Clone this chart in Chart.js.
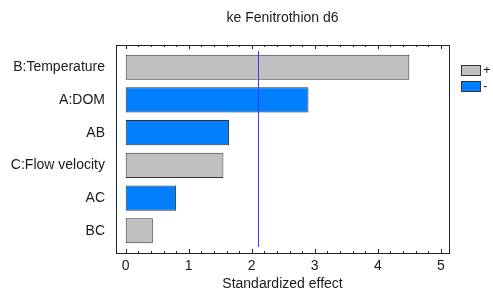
<!DOCTYPE html>
<html>
<head>
<meta charset="utf-8">
<script src="https://cdn.jsdelivr.net/npm/chart.js@4.4.0/dist/chart.umd.min.js"></script>
<style>
  html, body { margin: 0; padding: 0; background: #fff; }
  #wrap { width: 493px; height: 297px; position: relative; }
</style>
</head>
<body>
<div id="wrap"><canvas id="chart"></canvas></div>
<script>
// pareto chart of standardized effects
const chartTitle = 'ke Fenitrothion d6';
const factors = ['B:Temperature', 'A:DOM', 'AB', 'C:Flow velocity', 'AC', 'BC'];
const effects = [4.50, 2.90, 1.64, 1.55, 0.80, 0.43];
const signs = ['+', '-', '-', '+', '-', '+'];
const criticalValue = 2.10;
const xTicks = [0, 1, 2, 3, 4, 5];
const xTitle = 'Standardized effect';

const FONT = 'Liberation Sans, Arial, sans-serif';
const TEXT = '#1a1a1a';
const signColors = { '+': '#c0c0c0', '-': '#0080ff' };

function seriesFor(sign){
  return factors.map((f, i) => i).filter(i => signs[i] === sign).map(i => ({ x: effects[i], y: i }));
}

const datasets = ['+', '-'].map(s => ({
  label: s,
  data: seriesFor(s),
  backgroundColor: signColors[s],
  borderColor: '#333',
  borderWidth: 1,
  borderSkipped: false,
  grouped: false,
  barPercentage: 0.77,
  categoryPercentage: 1
}));

// frame, inward ticks, reference line, title and legend
const decor = {
  id: 'decor',
  afterDatasetsDraw(chart){
    const ctx = chart.ctx, a = chart.chartArea;
    const xs = chart.scales.x, ys = chart.scales.y;
    ctx.save();
    // reference line
    const lx = Math.round(xs.getPixelForValue(criticalValue)) + 0.5;
    ctx.strokeStyle = '#3a3aff';
    ctx.lineWidth = 1;
    ctx.beginPath();
    ctx.moveTo(lx, ys.getPixelForValue(-0.5));
    ctx.lineTo(lx, ys.getPixelForValue(factors.length - 0.5));
    ctx.stroke();
    // frame
    ctx.strokeStyle = '#222';
    ctx.strokeRect(Math.round(a.left) + 0.5, Math.round(a.top) + 0.5, Math.round(a.right - a.left), Math.round(a.bottom - a.top));
    // minor/major ticks every 0.2
    ctx.beginPath();
    for (let k = 0; k <= 25; k++) {
      const v = k / 5;
      const px = Math.round(xs.getPixelForValue(v)) + 0.5;
      const len = (k % 5 === 0) ? 4 : 2;
      ctx.moveTo(px, Math.round(a.top)); ctx.lineTo(px, Math.round(a.top) + len);
      ctx.moveTo(px, Math.round(a.bottom)); ctx.lineTo(px, Math.round(a.bottom) - len);
    }
    ctx.stroke();
    // title
    ctx.fillStyle = TEXT;
    ctx.font = '14px ' + FONT;
    ctx.textAlign = 'center';
    ctx.textBaseline = 'middle';
    ctx.fillText(chartTitle, (a.left + a.right) / 2, 18);
    // legend
    ctx.textAlign = 'left';
    ctx.font = '13px ' + FONT;
    chart.data.datasets.forEach((ds, i) => {
      const bx = a.right + 12, by = 65 + i * 16;
      ctx.fillStyle = ds.backgroundColor;
      ctx.fillRect(bx, by, 19, 10);
      ctx.strokeStyle = '#333';
      ctx.strokeRect(bx + 0.5, by + 0.5, 19, 10);
      ctx.fillStyle = TEXT;
      ctx.fillText(ds.label, bx + 22, by + 5.5);
    });
    ctx.restore();
  }
};

new Chart(document.getElementById('chart'), {
  type: 'bar',
  data: { datasets },
  options: {
    indexAxis: 'y',
    responsive: true,
    maintainAspectRatio: false,
    animation: false,
    layout: { padding: { left: 0, right: 44, top: 45, bottom: 0 } },
    plugins: { legend: { display: false }, tooltip: { enabled: false }, title: { display: false } },
    scales: {
      x: {
        type: 'linear',
        min: -0.154,
        max: 5.13,
        afterBuildTicks: s => { s.ticks = xTicks.map(v => ({ value: v })); },
        afterFit: s => { s.height = 44; },
        grid: { display: false, drawTicks: false },
        border: { display: false },
        ticks: { color: TEXT, font: { family: FONT, size: 14 }, padding: 5, maxRotation: 0 },
        title: { display: true, text: xTitle, color: TEXT, font: { family: FONT, size: 14 }, padding: { top: 0, bottom: 4 } }
      },
      y: {
        type: 'linear',
        reverse: true,
        offset: false,
        min: -0.68,
        max: factors.length - 1 + 0.68,
        afterBuildTicks: s => { s.ticks = factors.map((f, i) => ({ value: i })); },
        afterFit: s => { s.width = 116; },
        grid: { display: false, drawTicks: false },
        border: { display: false },
        ticks: { color: TEXT, font: { family: FONT, size: 14 }, padding: 11, callback: v => factors[v] }
      }
    }
  },
  plugins: [decor]
});
</script>
</body>
</html>
